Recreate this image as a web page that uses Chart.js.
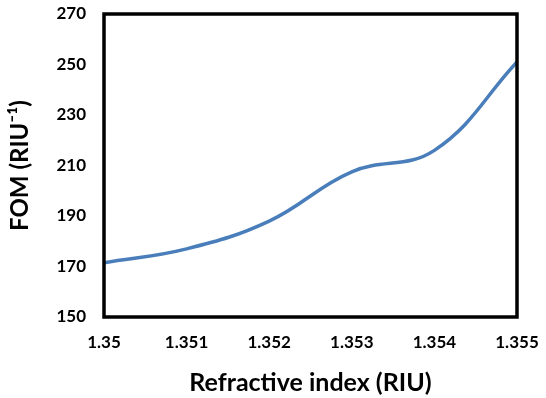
<!DOCTYPE html>
<html>
<head>
<meta charset="utf-8">
<script src="https://cdn.jsdelivr.net/npm/chart.js@4.4.1/dist/chart.umd.min.js"></script>
<style>
  html, body { margin: 0; padding: 0; background: #fff; }
  #wrap { width: 546px; height: 398px; }
</style>
</head>
<body>
<div id="wrap"><canvas id="c" width="546" height="398"></canvas></div>
<script>
const refractiveIndex = [1.350, 1.351, 1.352, 1.353, 1.354, 1.355];
const fomValues = [171.5, 177, 188, 207.5, 216, 251];
const xTickLabels = ["1.35", "1.351", "1.352", "1.353", "1.354", "1.355"];
const yTickLabels = ["150", "170", "190", "210", "230", "250", "270"];

const FONT = "Lato, 'Open Sans', 'Liberation Sans', sans-serif";

const boxPlugin = {
  id: 'box',
  afterDraw(chart) {
    const a = chart.chartArea, ctx = chart.ctx;
    ctx.save();
    ctx.strokeStyle = '#000';
    ctx.lineWidth = 3.5;
    ctx.strokeRect(a.left, a.top, a.right - a.left, a.bottom - a.top);
    ctx.restore();
  }
};

new Chart(document.getElementById('c'), {
  type: 'line',
  data: {
    datasets: [{
      data: refractiveIndex.map((x, i) => ({ x: x, y: fomValues[i] })),
      borderColor: '#4a7ebb',
      borderWidth: 3.5,
      pointRadius: 0,
      tension: 0.4,
      fill: false
    }]
  },
  options: {
    responsive: false,
    animation: false,
    layout: { padding: { left: 0, right: 29, top: 14, bottom: 0 } },
    plugins: { legend: { display: false }, tooltip: { enabled: false } },
    scales: {
      x: {
        type: 'linear',
        min: 1.35, max: 1.355,
        afterBuildTicks(axis) {
          axis.ticks = refractiveIndex.map(v => ({ value: v }));
        },
        grid: { display: false, drawTicks: false },
        border: { display: false },
        ticks: {
          padding: 15,
          color: '#000',
          font: { family: FONT, size: 17, weight: 'bold' },
          callback: (v, i) => xTickLabels[i]
        },
        title: {
          display: true,
          text: 'Refractive index (RIU)',
          color: '#000',
          font: { family: FONT, size: 25, weight: 'bold' },
          padding: { top: 8, bottom: 0 }
        },
        afterFit(axis) {
          axis.height = 398 - 317;
          axis.paddingLeft = 0; axis.paddingRight = 0;
        }
      },
      y: {
        min: 150, max: 270,
        afterBuildTicks(axis) {
          axis.ticks = yTickLabels.map(v => ({ value: Number(v) }));
        },
        grid: { display: false, drawTicks: false },
        border: { display: false },
        ticks: {
          padding: 18,
          color: '#000',
          font: { family: FONT, size: 17, weight: 'bold' },
          callback: (v, i) => yTickLabels[i]
        },
        title: {
          display: true,
          text: 'FOM (RIU⁻¹)',
          color: '#000',
          font: { family: FONT, size: 24, weight: 'bold' },
          padding: { top: 6, bottom: 0 }
        },
        afterFit(axis) {
          axis.width = 104;
          axis.paddingTop = 0; axis.paddingBottom = 0;
        }
      }
    }
  },
  plugins: [boxPlugin]
});
</script>
</body>
</html>
